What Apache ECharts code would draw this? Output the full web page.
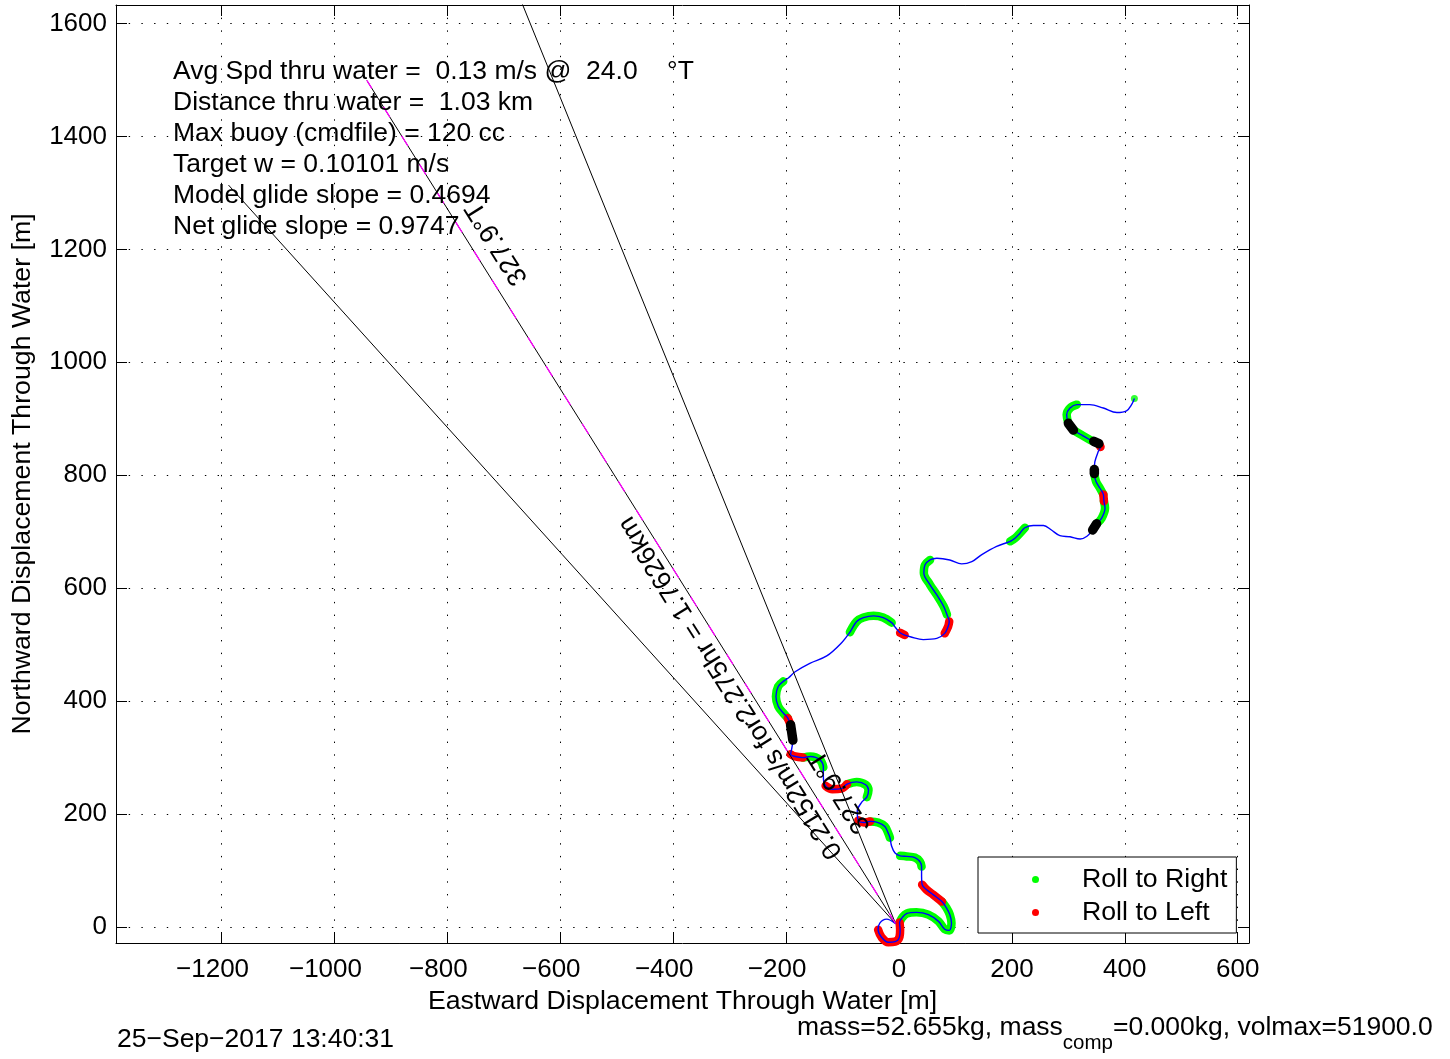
<!DOCTYPE html>
<html>
<head>
<meta charset="utf-8">
<script src="https://cdn.jsdelivr.net/npm/echarts@6/dist/echarts.min.js"></script>
<style>
html,body{margin:0;padding:0;background:#fff;}
#c{width:1450px;height:1059px;}
</style>
</head>
<body>
<div id="c"></div>
<script>
// ---- data ----
const trackX = [-6,-22,-34,-37,-31,-19,-7,1,2,1,
  6,14,31,52,70,81,89,93,90,84,
  76,61,49,41,40,40,37,28,14,2,
  -7,-13,-16,-19,-25,-37,-51,-62,-72,-74,
  -66,-57,-54,-59,-75,-92,-102,-118,-130,-134,
  -134,-140,-157,-170,-184,-192,-190,-188,-192,-197,
  -205,-214,-218,-214,-205,-196,-184,-158,-128,-102,
  -87,-75,-63,-45,-28,-13,-6,2,10,20,
  43,67,81,87,89,85,79,67,55,44,
  46,55,67,90,111,129,146,173,197,206,
  214,223,238,256,270,285,303,321,333,343,
  350,359,365,363,362,356,349,346,346,347,
  353,357,354,345,338,324,309,300,297,303,
  315,338,362,386,403,412,417];
const trackY = [6,14,7,-5,-18,-27,-26,-17,-5,8,
  17,24,26,22,10,-4,-6,7,22,34,
  45,57,66,75,90,107,116,123,125,126,
  131,143,158,166,178,185,187,185,189,205,
  221,230,242,252,257,253,245,244,250,266,
  283,296,302,300,302,306,316,331,358,370,
  379,391,408,426,435,441,452,467,480,503,
  522,541,548,551,548,539,530,521,517,514,
  509,511,520,532,541,553,568,588,606,627,
  641,650,653,650,643,647,659,674,683,689,
  697,707,711,711,703,693,691,687,692,703,
  714,724,742,754,766,777,789,803,810,824,
  842,850,856,860,863,871,880,892,907,919,
  925,925,919,911,914,925,936];
// state of the segment starting at each point: b = none, g = roll right, r = roll left, k = other
const rollState = ['b','b','b','r','r','r','r','r','r','g',
  'g','g','g','g','g','g','g','g','g','g',
  'r','r','r','b','b','g','g','g','g','b',
  'b','b','g','g','g','g','r','r','b','b',
  'b','g','g','g','g','r','r','r','b','b',
  'g','g','g','r','r','b','b','k','r','g',
  'g','g','g','g','b','b','b','b','b','b',
  'g','g','g','g','g','b','b','r','b','b',
  'b','b','r','r','b','g','g','g','g','g',
  'g','b','b','b','b','b','b','b','g','g',
  'g','b','b','b','b','b','b','b','b','k',
  'g','g','g','r','g','g','g','k','b','b',
  'b','r','k','g','g','g','k','g','g','g',
  'b','b','b','b','b','b','g'];
const headingBearings = [317.9, 327.9, 337.9]; // deg True
const netBearing = 327.9;
const headingLength = 1762.6; // m  (0.2152 m/s for 2.275 hr)
const tickStep = 200;

const FONT = '"Liberation Sans", Arial, Helvetica, sans-serif';
const TXT = 26.5;   // annotation text size
const TICK = 26;    // tick label size
const COLORS = {g: '#00ff00', r: '#ff0000', k: '#000000'};
const NAMES = {g: 'Roll to Right', r: 'Roll to Left', k: 'Other'};

function runs(code) {
  const out = [];
  let i = 0;
  while (i < rollState.length) {
    if (rollState[i] === code) {
      let j = i;
      while (j + 1 < rollState.length && rollState[j + 1] === code) j++;
      const end = Math.min(j + 1, trackX.length - 1);
      const pts = [];
      for (let k = i; k <= end; k++) pts.push([trackX[k], trackY[k]]);
      out.push(pts);
      i = j + 1;
    } else i++;
  }
  return out;
}

const series = [];
['g', 'r'].forEach(code => {
  runs(code).forEach(pts => {
    if (pts.length === 1) {
      series.push({type: 'scatter', name: NAMES[code], data: pts, symbolSize: 7,
        itemStyle: {color: COLORS[code]}, z: 2, silent: true});
    } else {
      series.push({type: 'line', name: NAMES[code], data: pts, smooth: 0.35, symbol: 'none',
        color: COLORS[code],
        lineStyle: {color: COLORS[code], width: 8.5, cap: 'round', join: 'round'}, z: 2, silent: true});
    }
  });
});
const track = trackX.map((x, i) => [x, trackY[i]]);
const trackIndex = series.length;
series.push({type: 'line', name: 'track', data: track, smooth: 0.35, symbol: 'none',
  lineStyle: {color: '#0000ff', width: 1.4}, z: 3, silent: true});
runs('k').forEach(pts => {
  series.push({type: 'line', name: NAMES.k, data: pts, smooth: 0.35, symbol: 'none',
    lineStyle: {color: '#000', width: 9.5, cap: 'round', join: 'round'}, z: 4, silent: true});
});
const ox = trackX[0], oy = trackY[0];
function lineEnd(b) {
  const r = b * Math.PI / 180;
  return [ox + headingLength * Math.sin(r), oy + headingLength * Math.cos(r)];
}
headingBearings.forEach(b => {
  series.push({type: 'line', name: 'heading ' + b, data: [[ox, oy], lineEnd(b)], symbol: 'none',
    lineStyle: {color: '#000', width: 1}, z: 5, silent: true, clip: true});
});
series.push({type: 'line', name: 'net', data: [[ox, oy], lineEnd(netBearing)], symbol: 'none',
  lineStyle: {color: '#ff00ff', width: 1.3, type: [12, 22]}, z: 6, silent: true, clip: true});

const labelFmt = v => (v < 0 ? '{n|\u2212' + Math.abs(v) + '}' : '' + v);
const xMin = -1387, xMax = 620, yMin = -28.3, yMax = 1632.7;
function mkX(pos, main) {
  return {
    type: 'value', position: pos, min: xMin, max: xMax, minInterval: tickStep, maxInterval: tickStep,
    axisLine: {show: true, onZero: false, lineStyle: {color: '#000', width: 1}},
    axisTick: {show: true, inside: true, length: 11, lineStyle: {color: '#000', width: 1}},
    axisLabel: {show: main, fontSize: TICK, color: '#000', fontFamily: FONT, margin: 14,
      showMinLabel: false, showMaxLabel: false, formatter: labelFmt,
      rich: {n: {fontSize: TICK, color: '#000', fontFamily: FONT, padding: [0, 18, 0, 0]}}},
    splitLine: {show: main, lineStyle: {color: '#000', width: 1, type: [1.4, 11.3]}},
    name: main ? 'Eastward Displacement Through Water [m]' : '',
    nameLocation: 'middle', nameGap: 45,
    nameTextStyle: {fontSize: 26.7, color: '#000', fontFamily: FONT}
  };
}
function mkY(pos, main) {
  return {
    type: 'value', position: pos, min: yMin, max: yMax, minInterval: tickStep, maxInterval: tickStep,
    axisLine: {show: true, onZero: false, lineStyle: {color: '#000', width: 1}},
    axisTick: {show: true, inside: true, length: 11, lineStyle: {color: '#000', width: 1}},
    axisLabel: {show: main, fontSize: TICK, color: '#000', fontFamily: FONT, margin: 9,
      showMinLabel: false, showMaxLabel: false, formatter: labelFmt,
      rich: {n: {fontSize: TICK, color: '#000', fontFamily: FONT}}},
    splitLine: {show: main, lineStyle: {color: '#000', width: 1, type: [1.4, 11.3]}},
    name: main ? 'Northward Displacement Through Water [m]' : '',
    nameLocation: 'middle', nameGap: 80, nameRotate: 90,
    nameTextStyle: {fontSize: 26.7, color: '#000', fontFamily: FONT}
  };
}

const option = {
  animation: false,
  backgroundColor: '#fff',
  grid: {left: 116, top: 5, width: 1133, height: 938, containLabel: false},
  xAxis: [mkX('bottom', true), mkX('top', false)],
  yAxis: [mkY('left', true), mkY('right', false)],
  legend: {
    orient: 'vertical', left: 978, top: 857,
    backgroundColor: '#fff', borderColor: '#000', borderWidth: 1, borderRadius: 0,
    padding: [9, 9, 7, 54], itemGap: 6, itemWidth: 7, itemHeight: 7, icon: 'circle',
    selectedMode: false,
    data: [{name: 'Roll to Right', itemStyle: {color: '#00ff00'}},
           {name: 'Roll to Left', itemStyle: {color: '#ff0000'}}],
    textStyle: {fontSize: 26.7, color: '#000', fontFamily: FONT, lineHeight: 26, padding: [0, 0, 0, 38]}
  },
  series: series
};

const chart = echarts.init(document.getElementById('c'));
chart.setOption(option);

const toPx = p => chart.convertToPixel({seriesIndex: trackIndex}, p);
const rot = (90 + (360 - netBearing)) * Math.PI / 180;
const infoLines = [
  'Avg Spd thru water =  0.13 m/s @  24.0    \u00b0T',
  'Distance thru water =  1.03 km',
  'Max buoy (cmdfile) = 120 cc',
  'Target w = 0.10101 m/s',
  'Model glide slope = 0.4694',
  'Net glide slope = 0.9747'
];
function rotText(txt, dataPt) {
  const p = toPx(dataPt);
  return {type: 'text', x: p[0], y: p[1], rotation: rot, z: 20, silent: true,
    style: {text: txt, fontSize: TXT, fontFamily: FONT, fill: '#000', textAlign: 'center', textVerticalAlign: 'middle'}};
}
// footer with subscript
const ctx = document.createElement('canvas').getContext('2d');
const measure = (t, s) => { ctx.font = s + 'px ' + FONT; return ctx.measureText(t).width; };
const m1 = 'mass=52.655kg, mass', m2 = 'comp', m3 = '=0.000kg, volmax=51900.0';
const fx = 797, w1 = measure(m1, TXT), w2 = measure(m2, 20.5);

chart.setOption({
  graphic: [
    {type: 'text', left: 173, top: 56, z: 20, silent: true,
      style: {text: infoLines.join('\n'), fontSize: TXT, lineHeight: 31, fontFamily: FONT, fill: '#000'}},
    rotText('327.9\u00b0T', [-712, 1211]),
    rotText('0.2152m/s for2.275hr = 1.7626km', [-298, 424]),
    rotText('327.9\u00b0T', [-105, 240]),
    {type: 'text', x: 117, y: 1040, z: 20, silent: true,
      style: {text: '25\u2212Sep\u22122017 13:40:31', fontSize: TXT, fontFamily: FONT, fill: '#000', textVerticalAlign: 'middle'}},
    {type: 'text', x: fx, y: 1028, z: 20, silent: true,
      style: {text: m1, fontSize: TXT, fontFamily: FONT, fill: '#000', textVerticalAlign: 'middle'}},
    {type: 'text', x: fx + w1, y: 1043, z: 20, silent: true,
      style: {text: m2, fontSize: 20.5, fontFamily: FONT, fill: '#000', textVerticalAlign: 'middle'}},
    {type: 'text', x: fx + w1 + w2, y: 1028, z: 20, silent: true,
      style: {text: m3, fontSize: TXT, fontFamily: FONT, fill: '#000', textVerticalAlign: 'middle'}}
  ]
});
</script>
</body>
</html>
